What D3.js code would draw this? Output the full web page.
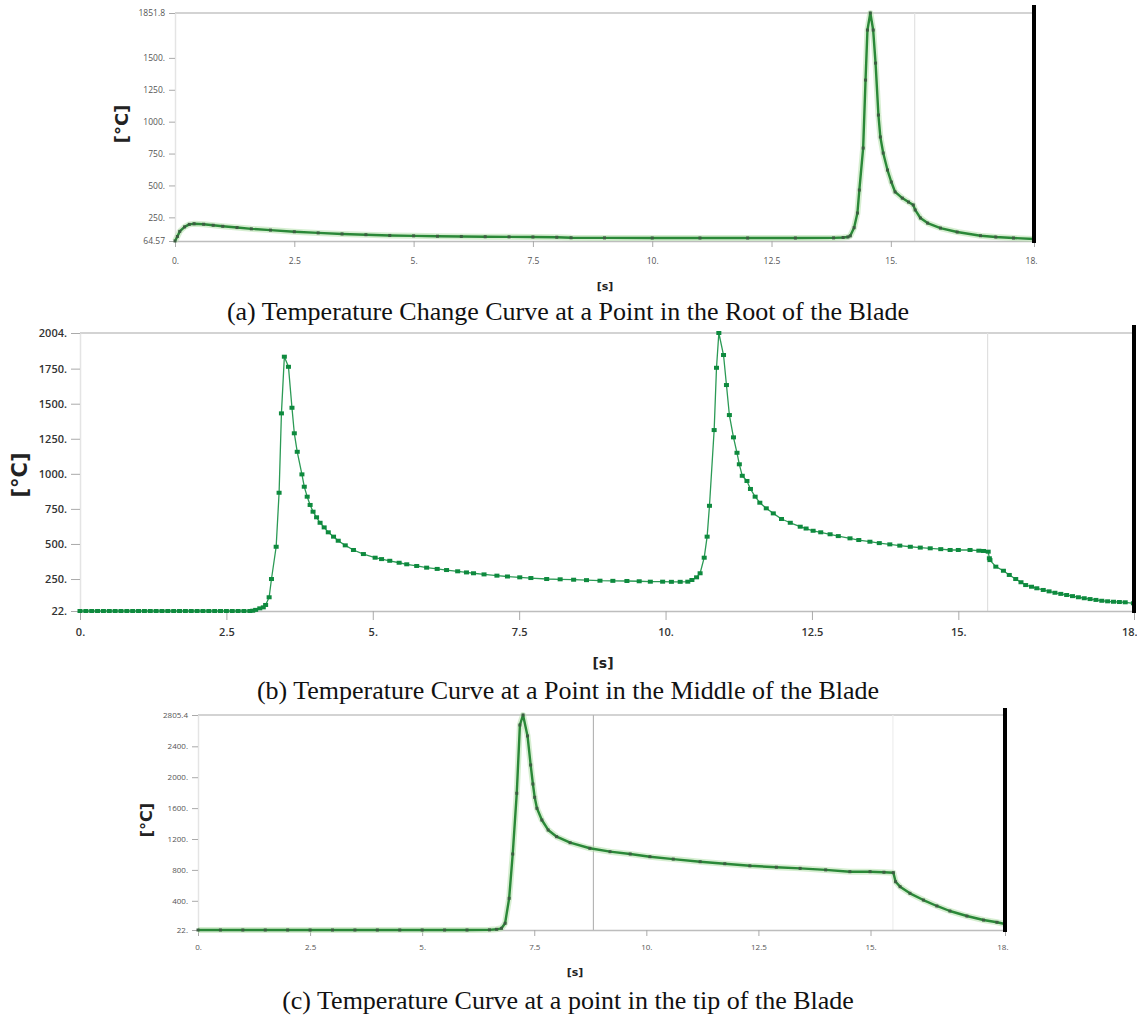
<!DOCTYPE html>
<html>
<head>
<meta charset="utf-8">
<script src="https://cdn.jsdelivr.net/npm/d3@7"></script>
<style>
  body { margin: 0; background: #fff; }
  svg { display: block; }
</style>
</head>
<body>
<script>
// shared x axis
const xTicks = [0, 2.5, 5, 7.5, 10, 12.5, 15, 18];
const xTickLabels = ["0.", "2.5", "5.", "7.5", "10.", "12.5", "15.", "18."];

// (a) root of the blade  [time s, temp C]
const rootYTicks = [64.57, 250, 500, 750, 1000, 1250, 1500, 1851.8];
const rootYLabels = ["64.57", "250.", "500.", "750.", "1000.", "1250.", "1500.", "1851.8"];
const rootPoints = [
  [0, 64.57], [0.05, 100], [0.1, 140], [0.2, 175], [0.3, 195], [0.4, 200], [0.6, 196],
  [0.8, 188], [1.0, 180], [1.3, 170], [1.6, 160], [2.0, 150], [2.5, 137], [3.0, 128],
  [3.5, 120], [4.0, 114], [4.5, 108], [5.0, 105], [5.5, 102], [6.0, 100], [6.5, 98],
  [7.0, 97], [7.5, 96], [8.0, 94], [8.3, 90], [9.0, 89], [10.0, 88], [11.0, 88],
  [12.0, 88], [13.0, 88], [13.8, 89], [14.0, 92], [14.1, 96], [14.15, 105], [14.23, 169],
  [14.3, 284], [14.34, 464], [14.42, 793], [14.47, 1326], [14.51, 1718], [14.57, 1851.8],
  [14.63, 1718], [14.68, 1459], [14.74, 1052], [14.78, 880], [14.84, 754], [14.93, 621],
  [15.01, 527], [15.09, 449], [15.24, 401], [15.37, 370], [15.47, 347], [15.51, 308],
  [15.62, 245], [15.77, 205], [16.04, 166], [16.39, 135], [16.88, 106], [17.2, 96],
  [17.57, 88], [18.0, 80]
];

// (b) middle of the blade
const middleYTicks = [22, 250, 500, 750, 1000, 1250, 1500, 1750, 2004];
const middleYLabels = ["22.", "250.", "500.", "750.", "1000.", "1250.", "1500.", "1750.", "2004."];
const middlePoints = [
  [0, 22], [0.1, 22], [0.2, 22], [0.3, 22], [0.4, 22], [0.5, 22], [0.6, 22], [0.7, 22],
  [0.8, 22], [0.9, 22], [1.0, 22], [1.1, 22], [1.2, 22], [1.3, 22], [1.4, 22], [1.5, 22],
  [1.6, 22], [1.7, 22], [1.8, 22], [1.9, 22], [2.0, 22], [2.1, 22], [2.2, 22], [2.3, 22],
  [2.4, 22], [2.5, 22], [2.6, 22], [2.7, 22], [2.8, 22], [2.9, 22], [2.95, 24], [3.0, 30],
  [3.07, 41], [3.13, 48], [3.17, 65], [3.23, 120], [3.27, 250], [3.35, 480], [3.4, 865],
  [3.44, 1431], [3.49, 1835], [3.56, 1763], [3.62, 1471], [3.66, 1289], [3.71, 1157],
  [3.79, 996], [3.83, 908], [3.88, 837], [3.93, 778], [3.98, 730], [4.04, 690], [4.1, 651],
  [4.17, 618], [4.24, 583], [4.33, 552], [4.41, 523], [4.53, 490], [4.67, 457], [4.84, 428],
  [5.04, 402], [5.15, 392], [5.29, 380], [5.45, 366], [5.58, 355], [5.75, 343], [5.92, 331],
  [6.1, 322], [6.26, 314], [6.45, 305], [6.6, 297], [6.72, 291], [6.9, 283], [7.12, 274],
  [7.3, 268], [7.51, 262], [7.7, 257], [7.97, 250], [8.2, 248], [8.43, 245], [8.65, 242],
  [8.88, 238], [9.1, 237], [9.34, 236], [9.55, 234], [9.74, 231], [9.95, 231], [10.1, 230],
  [10.25, 230], [10.38, 231], [10.45, 243], [10.53, 262], [10.59, 291], [10.66, 402],
  [10.71, 552], [10.75, 772], [10.83, 1312], [10.87, 1756], [10.91, 2004], [10.99, 1847],
  [11.04, 1633], [11.09, 1419], [11.16, 1260], [11.22, 1150], [11.26, 1068], [11.31, 986],
  [11.39, 949], [11.45, 892], [11.53, 837], [11.61, 794], [11.72, 754], [11.84, 718],
  [11.98, 678], [12.13, 651], [12.3, 623], [12.4, 610], [12.52, 594], [12.65, 583],
  [12.81, 569], [12.95, 556], [13.15, 540], [13.3, 528], [13.49, 516], [13.65, 506],
  [13.83, 497], [14.0, 488], [14.18, 480], [14.35, 474], [14.52, 469], [14.7, 463],
  [14.86, 457], [15.0, 457], [15.2, 457], [15.35, 452], [15.43, 450], [15.51, 445],
  [15.53, 398], [15.54, 385], [15.64, 338], [15.77, 309], [15.87, 279], [15.98, 250],
  [16.07, 227], [16.15, 207], [16.25, 195], [16.34, 184], [16.45, 172], [16.55, 162],
  [16.65, 152], [16.75, 144], [16.85, 136], [16.95, 128], [17.05, 120], [17.15, 113],
  [17.25, 107], [17.35, 101], [17.45, 95], [17.55, 91], [17.65, 88], [17.75, 86],
  [17.85, 84], [17.99, 77]
];

// (c) tip of the blade
const tipYTicks = [22, 400, 800, 1200, 1600, 2000, 2400, 2805.4];
const tipYLabels = ["22.", "400.", "800.", "1200.", "1600.", "2000.", "2400.", "2805.4"];
const tipPoints = [
  [0, 22], [0.5, 22], [1.0, 22], [1.5, 22], [2.0, 22], [2.5, 22], [3.0, 22], [3.5, 22],
  [4.0, 22], [4.5, 22], [5.0, 22], [5.5, 22], [6.0, 22], [6.5, 24], [6.66, 31], [6.77, 44],
  [6.85, 109], [6.94, 432], [7.02, 1006], [7.11, 1792], [7.18, 2676], [7.25, 2805.4],
  [7.35, 2534], [7.42, 2158], [7.47, 1912], [7.51, 1740], [7.56, 1597], [7.67, 1446],
  [7.81, 1317], [8.0, 1230], [8.3, 1152], [8.74, 1080], [9.19, 1036], [9.64, 1006],
  [10.08, 971], [10.6, 940], [11.2, 906], [11.75, 880], [12.31, 853], [12.9, 835],
  [13.43, 820], [14.0, 800], [14.54, 777], [14.99, 777], [15.3, 770], [15.51, 764],
  [15.56, 647], [15.66, 583], [15.88, 497], [16.18, 410], [16.48, 333], [16.77, 268],
  [17.15, 203], [17.52, 151], [17.82, 122], [18.0, 100]
];

const captions = [
  "(a) Temperature Change Curve at a Point in the Root of the Blade",
  "(b) Temperature Curve at a Point in the Middle of the Blade",
  "(c) Temperature Curve at a point in the tip of the Blade"
];

// panel layouts
const panels = [
  { points: rootPoints, yTicks: rootYTicks, yLabels: rootYLabels, caption: captions[0],
    left: 175, right: 1034, top: 13, bottom: 241, blackTop: 5,
    tickFont: 8.5, tickColor: "#555", yLabX: 123, yLabY: 124, yLabSize: 18,
    xLabY: 290, xLabX: 605, xLabSize: 11, captionY: 320, xPad: 11,
    guides: [{ t: 15.5, c: "#e2e2e2" }],
    line: "#2a8838", lineW: 2.4, halo: true, marker: "#3c5e42", mw: 3, mh: 3 },
  { points: middlePoints, yTicks: middleYTicks, yLabels: middleYLabels, caption: captions[1],
    left: 80, right: 1134, top: 333, bottom: 611, blackTop: 325,
    tickFont: 11, tickColor: "#333", yLabX: 21, yLabY: 475, yLabSize: 21,
    xLabY: 668, xLabX: 603, xLabSize: 14, captionY: 699, xPad: 8,
    guides: [{ t: 15.5, c: "#e0e0e0" }],
    line: "#2b9a55", lineW: 1.3, halo: false, marker: "#0e8a3e", mw: 5, mh: 4 },
  { points: tipPoints, yTicks: tipYTicks, yLabels: tipYLabels, caption: captions[2],
    left: 198, right: 1005, top: 715, bottom: 930, blackTop: 708,
    tickFont: 8, tickColor: "#555", yLabX: 147, yLabY: 820, yLabSize: 16,
    xLabY: 976, xLabX: 575, xLabSize: 11, captionY: 1009, xPad: 8,
    guides: [{ t: 8.82, c: "#b5b5b5" }, { t: 15.5, c: "#eeeeee" }],
    line: "#2a8838", lineW: 2.4, halo: true, marker: "#3c5e42", mw: 3, mh: 3 }
];

const svg = d3.select("body").append("svg")
  .attr("width", 1137)
  .attr("height", 1016)
  .style("background", "#fff");

panels.forEach(p => {
  let x = d3.scaleLinear().domain([0, 18]).range([p.left, p.right]);
  let y = d3.scaleLinear()
    .domain([p.yTicks[0], p.yTicks[p.yTicks.length - 1]])
    .range([p.bottom, p.top]);

  let g = svg.append("g");

  //top line at max value
  g.append("line")
    .attr("x1", p.left).attr("x2", p.right)
    .attr("y1", y(y.domain()[1])).attr("y2", y(y.domain()[1]))
    .attr("stroke", "#c4c4c4").attr("stroke-width", 1.5);

  //vertical guides
  p.guides.forEach(gd => {
    g.append("line")
      .attr("x1", x(gd.t)).attr("x2", x(gd.t))
      .attr("y1", p.top).attr("y2", p.bottom)
      .attr("stroke", gd.c).attr("stroke-width", 1.2);
  });

  //y axis
  let yAxis = d3.axisLeft(y)
    .tickValues(p.yTicks)
    .tickFormat((d, i) => p.yLabels[i])
    .tickSize(p.tickFont > 10 ? 9 : 6)
    .tickSizeOuter(0)
    .tickPadding(4);
  let ya = g.append("g")
    .attr("transform", "translate(" + p.left + ",0)")
    .call(yAxis);
  ya.select(".domain").attr("stroke", "#e4e4e4").attr("stroke-width", 1.5);
  ya.selectAll(".tick line").attr("stroke", "#aaa");
  ya.selectAll(".tick text")
    .attr("fill", p.tickColor)
    .style("font-family", "'Open Sans', 'DejaVu Sans', sans-serif")
    .style("font-size", p.tickFont + "px")
    .style("font-weight", p.tickFont > 10 ? 600 : 400);

  //x axis
  let xAxis = d3.axisBottom(x)
    .tickValues(xTicks)
    .tickFormat((d, i) => xTickLabels[i])
    .tickSize(p.tickFont > 10 ? 9 : 6)
    .tickSizeOuter(0)
    .tickPadding(p.xPad);
  let xa = g.append("g")
    .attr("transform", "translate(0," + p.bottom + ")")
    .call(xAxis);
  xa.select(".domain").attr("stroke", "#bdbdbd").attr("stroke-width", 1.5);
  xa.selectAll(".tick line").attr("stroke", "#aaa");
  xa.selectAll(".tick text")
    .attr("fill", p.tickColor)
    .style("font-family", "'Open Sans', 'DejaVu Sans', sans-serif")
    .style("font-size", p.tickFont + "px")
    .style("font-weight", p.tickFont > 10 ? 600 : 400);
  //last label sits flush left of the end tick
  xa.selectAll(".tick text")
    .filter(d => d === 18)
    .attr("text-anchor", "end")
    .attr("dx", 3);

  //curve
  let line = d3.line().x(d => x(d[0])).y(d => y(d[1]));
  if (p.halo) {
    g.append("path")
      .datum(p.points)
      .attr("d", line)
      .attr("fill", "none")
      .attr("stroke", "#b4e0ab")
      .attr("stroke-opacity", 0.55)
      .attr("stroke-width", 6)
      .attr("stroke-linejoin", "round");
  }
  g.append("path")
    .datum(p.points)
    .attr("d", line)
    .attr("fill", "none")
    .attr("stroke", p.line)
    .attr("stroke-width", p.lineW)
    .attr("stroke-linejoin", "round");

  g.selectAll("rect.mk")
    .data(p.points)
    .enter()
    .append("rect")
    .attr("class", "mk")
    .attr("x", d => x(d[0]) - p.mw / 2)
    .attr("y", d => y(d[1]) - p.mh / 2)
    .attr("width", p.mw)
    .attr("height", p.mh)
    .attr("fill", p.marker);

  //thick black bar at the right end
  g.append("line")
    .attr("x1", x(18)).attr("x2", x(18))
    .attr("y1", p.blackTop).attr("y2", p.bottom + 2)
    .attr("stroke", "#000").attr("stroke-width", 4);

  //axis titles
  g.append("text")
    .attr("transform", "translate(" + p.yLabX + "," + p.yLabY + ") rotate(-90)")
    .attr("text-anchor", "middle")
    .attr("dominant-baseline", "middle")
    .style("font-family", "'DejaVu Sans', sans-serif")
    .style("font-weight", "bold")
    .style("font-size", p.yLabSize + "px")
    .attr("fill", "#222")
    .text("[°C]");

  g.append("text")
    .attr("x", p.xLabX)
    .attr("y", p.xLabY)
    .attr("text-anchor", "middle")
    .style("font-family", "'DejaVu Sans', sans-serif")
    .style("font-weight", "bold")
    .style("font-size", p.xLabSize + "px")
    .attr("fill", "#222")
    .text("[s]");

  //caption
  svg.append("text")
    .attr("x", 568)
    .attr("y", p.captionY)
    .attr("text-anchor", "middle")
    .style("font-family", "'Liberation Serif', 'Times New Roman', serif")
    .style("font-size", "26px")
    .attr("fill", "#111")
    .text(p.caption);
});
</script>
</body>
</html>
